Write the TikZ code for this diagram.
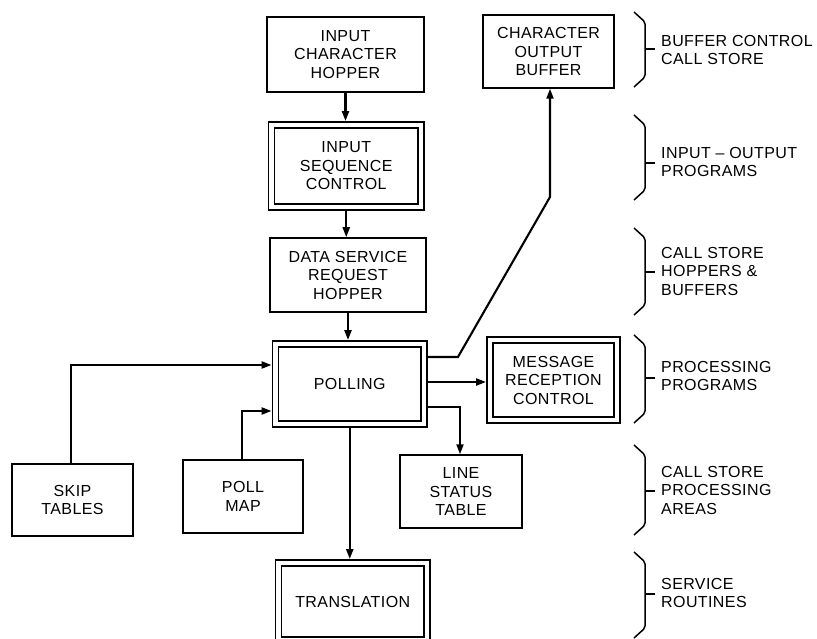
\documentclass[tikz,border=0pt]{standalone}
\usepackage{fontspec}
\setmainfont{Liberation Sans}[LetterSpace=2.5]
\usetikzlibrary{arrows.meta,calc}
\begin{document}
\begin{tikzpicture}[x=1pt,y=-1pt,
  txt/.style={font=\fontsize{16}{18.5}\selectfont},
  box/.style={txt, draw, line width=1.5pt, inner sep=0pt, align=center, outer sep=0.75pt},
  dbox/.style={box, double, double distance=4.9pt, outer sep=3.95pt},
  conn/.style={line width=2.1pt, -{Triangle[length=10pt,width=7pt]}},
  bracepath/.style={line width=1.5pt, rounded corners=2pt},
  lab/.style={txt, anchor=west, align=left, inner sep=0pt}]
\useasboundingbox (0,0) rectangle (817,639);
\clip (0,0) rectangle (817,639);

% boxes
\node[box, minimum width=157pt, minimum height=75pt] (ich) at (345.5,54.5) {INPUT\\CHARACTER\\HOPPER};
\node[dbox, minimum width=149.5pt, minimum height=82pt] (isc) at (346.25,166) {INPUT\\SEQUENCE\\CONTROL};
\node[box, minimum width=156pt, minimum height=74pt] (dsrh) at (348,275) {DATA SERVICE\\REQUEST\\HOPPER};
\node[box, minimum width=131pt, minimum height=73pt] (cob) at (548.5,51.5) {CHARACTER\\OUTPUT\\BUFFER};
\node[dbox, minimum width=148.5pt, minimum height=80pt] (poll) at (349.75,384) {POLLING};
\node[dbox, minimum width=127pt, minimum height=80pt] (mrc) at (553.5,380) {MESSAGE\\RECEPTION\\CONTROL};
\node[box, minimum width=121pt, minimum height=72pt] (skip) at (72.5,500) {SKIP\\TABLES};
\node[box, minimum width=120pt, minimum height=73pt] (pmap) at (243,496.5) {POLL\\MAP};
\node[box, minimum width=122pt, minimum height=73pt] (lst) at (461,491.5) {LINE\\STATUS\\TABLE};
\node[dbox, minimum width=148.5pt, minimum height=77pt] (trans) at (352.75,601.5) {TRANSLATION};

% connectors
\coordinate (kink) at (550,197);
\draw[conn] (ich.south) -- (ich.south |- isc.north);
\draw[conn] (isc.south) -- (isc.south |- dsrh.north);
\draw[conn] (dsrh.south) -- (dsrh.south |- poll.north);
\draw[conn] (poll.south) -- (poll.south |- trans.north);
\draw[conn] ([yshift=27pt]poll.east) -- ++(30,0) -- (kink) -- (kink |- cob.south);
\draw[conn] ([yshift=2pt]poll.east) -- ([yshift=2pt]poll.east -| mrc.west);
\draw[conn] ([yshift=-23pt]poll.east) -| ([xshift=-1pt]lst.north);
\draw[conn] ([xshift=-1.5pt]skip.north) |- ([yshift=19pt]poll.west);
\draw[conn] ([xshift=-1pt]pmap.north) |- ([yshift=-27pt]poll.west);

% braces and labels
\foreach \t/\b/\m in {12/87/49, 115/200/163, 228/315/272, 335/423/378, 445/535/491, 552/638/594}{
  \draw[bracepath] (634,\t) -- (645,\t+10) -- (645,\b-10) -- (634,\b);
  \draw[line width=1.5pt] (645,\m) -- (655,\m);
}
\node[lab] (l1) at (661,50) {BUFFER CONTROL\\CALL STORE};
\node[lab] (l2) at (661,162) {INPUT -- OUTPUT\\PROGRAMS};
\node[lab] (l3) at (661,271) {CALL STORE\\HOPPERS \&\\BUFFERS};
\node[lab] (l4) at (661,376) {PROCESSING\\PROGRAMS};
\node[lab] (l5) at (661,490) {CALL STORE\\PROCESSING\\AREAS};
\node[lab] (l6) at (661,593) {SERVICE\\ROUTINES};
\end{tikzpicture}
\end{document}
